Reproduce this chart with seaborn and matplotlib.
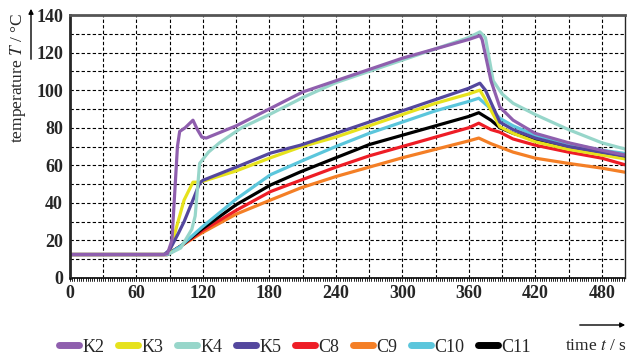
import numpy as np
import pandas as pd
import seaborn as sns
import matplotlib
matplotlib.use("Agg")
import matplotlib.pyplot as plt
from matplotlib.ticker import MultipleLocator
from matplotlib.lines import Line2D

sensors = ["K2", "K3", "K4", "K5", "C8", "C9", "C10", "C11"]
colors = ["#8F5FAE", "#E6E21C", "#97D6CA", "#54479E", "#EE1D26", "#F47F26", "#5BC6DC", "#000000"]

K2_t = [0, 85, 88, 92, 97, 99, 104, 111, 115, 119, 123, 150, 180, 210, 240, 270, 300, 330, 360, 370, 372, 380, 388, 400, 420, 450, 480, 505]
K2_T = [12.5, 12.5, 13, 20, 70, 78, 80, 84, 79, 75, 74.5, 81, 90, 99, 105, 111, 117, 122, 127, 129, 127, 105, 91, 84, 77, 72, 68, 65]

K3_t = [0, 85, 90, 98, 103, 111, 116, 120, 150, 181, 208, 240, 270, 300, 330, 360, 370, 374, 388, 400, 420, 450, 480, 505]
K3_T = [12.5, 12.5, 14, 31, 41.5, 51, 51, 51.5, 57, 64, 69.7, 75, 81, 87, 93, 98, 100, 96, 80.5, 77, 72.5, 68.5, 65.5, 63]

K4_t = [0, 85, 90, 100, 110, 113, 117, 125, 135, 155, 180, 210, 240, 270, 300, 330, 360, 370, 375, 382, 390, 400, 420, 450, 480, 505]
K4_T = [12.5, 12.5, 13, 16, 26, 33, 61, 67, 72, 80, 87, 96, 104, 110, 116, 122, 128, 131, 128, 105, 98, 93, 87, 79, 72, 68]

K5_t = [0, 85, 90, 98, 103, 112, 117, 120, 150, 181, 208, 240, 270, 300, 330, 360, 370, 375, 388, 400, 420, 450, 480, 505]
K5_T = [12.5, 12.5, 15, 24, 30, 43, 50.5, 52, 59, 66.5, 70.7, 77, 83, 89, 95, 101, 103.7, 100, 83, 79, 74.5, 70, 67, 64.5]

C_t = [0, 88, 100, 119, 150, 181, 208, 240, 270, 300, 330, 360, 369, 380, 388, 400, 420, 450, 480, 505]
C8_T = [12.5, 12.5, 17, 25, 36, 46, 52, 59, 65, 70, 75, 80, 82.4, 79, 77.6, 74, 70.7, 67, 63.8, 59.6]
C9_T = [12.5, 12.5, 17, 24, 34, 41.5, 47.9, 54, 59, 64, 68.5, 73, 74.5, 71.5, 69.7, 67, 63.8, 61, 58.5, 55.9]
C10_T = [12.5, 12.5, 17, 27, 42, 55, 62, 70, 77, 83, 89, 94, 95.7, 90, 85, 81, 76, 71.5, 68, 66]
C11_T = [12.5, 12.5, 17, 26, 39, 49.5, 56.5, 64, 71, 76, 81, 86, 88, 84, 80, 77, 73.5, 69.5, 66.5, 64]

x_ticks = [0, 60, 120, 180, 240, 300, 360, 420, 480]
y_ticks = [0, 20, 40, 60, 80, 100, 120, 140]

series = {
    "K2": (K2_t, K2_T), "K3": (K3_t, K3_T), "K4": (K4_t, K4_T), "K5": (K5_t, K5_T),
    "C8": (C_t, C8_T), "C9": (C_t, C9_T), "C10": (C_t, C10_T), "C11": (C_t, C11_T),
}
rows = []
for name in sensors:
    ts, Ts = series[name]
    for t, T in zip(ts, Ts):
        rows.append({"t": t, "T": T, "sensor": name})
df = pd.DataFrame(rows)

sns.set_style("white")
plt.rcParams["font.family"] = ["Liberation Serif", "DejaVu Serif"]
plt.rcParams["mathtext.fontset"] = "stix"

fig = plt.figure(figsize=(6.3, 3.56), dpi=100)
ax = fig.add_axes([70 / 630, 1 - 278 / 356, (625 - 70) / 630, (278 - 15) / 356])

palette = dict(zip(sensors, colors))
order = ["C9", "C8", "C11", "C10", "K3", "K5", "K4", "K2"]
for name in order:
    sns.lineplot(data=df[df.sensor == name], x="t", y="T", color=palette[name],
                 lw=2.3, ax=ax, legend=False, estimator=None, sort=False)

ax.set_xlim(0, 501)
ax.set_ylim(0, 140)
ax.set_xticks(x_ticks)
ax.set_yticks(y_ticks)
ax.xaxis.set_minor_locator(MultipleLocator(30))
ax.yaxis.set_minor_locator(MultipleLocator(10))
ax.grid(True, which="both", color="black", ls=(0, (3, 2)), lw=0.8)
ax.set_axisbelow(True)
ax.tick_params(axis="both", which="major", labelsize=13, length=3, width=1, direction="out", pad=2)
ax.tick_params(axis="x", which="minor", length=3, width=0.8, direction="in")
ax.tick_params(axis="y", which="minor", length=0)
for lab in ax.get_xticklabels() + ax.get_yticklabels():
    lab.set_fontweight("bold")
for t in np.arange(0, 501, 2):
    ax.plot([t, t], [0, -1.6], color="black", lw=0.6, clip_on=False, zorder=6)
ax.set_xlabel("")
ax.set_ylabel("")
ax.spines["left"].set_linewidth(2.0)
ax.spines["bottom"].set_linewidth(1.4)
ax.spines["top"].set_linewidth(2.0)
ax.spines["top"].set_color("#555555")
ax.spines["right"].set_linewidth(1.0)
for s in ax.spines.values():
    s.set_visible(True)

fig.text(18 / 630, 1 - 78 / 356, "temperature $T$ / °C", rotation=90, ha="center", va="center", fontsize=12.5)
fig.add_artist(matplotlib.patches.FancyArrowPatch((31 / 630, 1 - 62 / 356), (31 / 630, 1 - 6 / 356),
               transform=fig.transFigure, arrowstyle="-|>", mutation_scale=7, lw=1, color="black"))
fig.text(627 / 630, 1 - 346 / 356, "time $t$ / s", ha="right", va="center", fontsize=12.5)
fig.add_artist(matplotlib.patches.FancyArrowPatch((577 / 630, 1 - 325 / 356), (628 / 630, 1 - 325 / 356),
               transform=fig.transFigure, arrowstyle="-|>", mutation_scale=7, lw=1, color="black"))

handles = [Line2D([0], [0], color=palette[n], lw=5) for n in sensors]
fig.legend(handles, sensors, loc="center", bbox_to_anchor=(295 / 630, 1 - 347 / 356), ncol=8,
           frameon=False, fontsize=13, handlelength=1.1, handletextpad=0.2, columnspacing=0.75,
           borderpad=0, borderaxespad=0)

fig.savefig("out.png", dpi=100)
